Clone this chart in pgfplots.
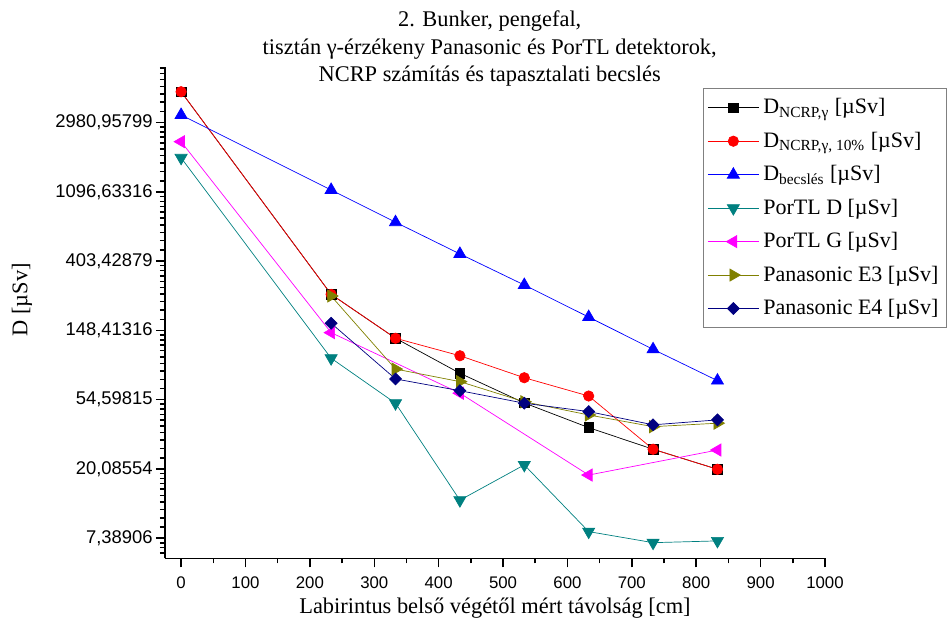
\documentclass[border=0pt]{standalone}
\usepackage{pgfplots}
\pgfplotsset{compat=1.18}
\usepackage{fontspec}
\setmainfont{Liberation Serif}
\newfontfamily\arial{Liberation Sans}
\definecolor{tealc}{RGB}{0,128,128}
\definecolor{olivec}{RGB}{128,128,0}
\definecolor{navyc}{RGB}{0,0,128}
\definecolor{magc}{RGB}{255,0,255}

\begin{document}
\begin{tikzpicture}
\useasboundingbox (0,0) rectangle (475pt,314pt);
\begin{axis}[
  at={(82.5pt,34.85pt)}, anchor=south west,
  scale only axis, width=330pt, height=245.65pt,
  xmin=-25, xmax=1000,
  ymode=log, ymin=5.53, ymax=6660,
  axis x line*=bottom, axis y line*=left,
  axis line style={line width=0.75pt, -},
  xtick={0,100,200,300,400,500,600,700,800,900,1000},
  xticklabels={0,100,200,300,400,500,600,700,800,900,1000},
  minor xtick={50,150,250,350,450,550,650,750,850,950},
  ytick={7.38906,20.08554,54.59815,148.41316,403.42879,1096.63316,2980.95799},
  yticklabels={{7,38906},{20,08554},{54,59815},{148,41316},{403,42879},{1096,63316},{2980,95799}},
  % nine linearly spaced minor ticks between consecutive powers of e
  minor ytick={5.9878,6.4549,6.9220,
    8.6587,9.9284,11.1980,12.4677,13.7373,15.0069,16.2766,17.5462,18.8159,
    23.5368,26.9880,30.4393,33.8906,37.3419,40.7931,44.2444,47.6957,51.1469,
    63.9797,73.3612,82.7427,92.1241,101.5056,110.8871,120.2686,129.6501,139.0315,
    173.915,199.416,224.918,250.420,275.921,301.423,326.924,352.426,377.928,
    472.749,542.070,611.390,680.711,750.031,819.352,888.672,957.992,1027.313,
    1285.066,1473.499,1661.932,1850.365,2038.798,2227.230,2415.663,2604.096,2792.529,
    3493.17,4005.38,4517.59,5029.81,5542.02,6054.23,6566.44},
  tick align=outside,
  major tick length=4.5pt, minor tick length=2.5pt,
  every tick/.style={black, line width=0.75pt},
  xticklabel style={font=\arial\fontsize{8.4}{10}\selectfont, yshift=-1pt},
  yticklabel style={font=\arial\fontsize{9.2}{10}\selectfont, inner xsep=1.5pt},
  xlabel={Labirintus belső végétől mért távolság [cm]},
  xlabel style={font=\fontsize{11.2}{13}\selectfont, at={(axis description cs:0.5,-0.101)}, anchor=center},
  ylabel={D [µSv]},
  ylabel style={font=\fontsize{11.2}{13}\selectfont, at={(axis description cs:-0.2167,0.526)}, anchor=center},
  title={2. Bunker, pengefal,\\tisztán γ-érzékeny Panasonic és PorTL detektorok,\\NCRP számítás és tapasztalati becslés},
  title style={align=center, font=\fontsize{11.2}{13.8}\selectfont, at={(axis description cs:0.492,1.013)}, anchor=center},
  legend style={at={(axis description cs:0.815,0.957)}, anchor=north west,
    draw=gray, line width=0.5pt, font=\fontsize{11}{12}\selectfont,
    row sep=3.6pt, inner xsep=2pt, inner ysep=3pt, cells={anchor=west}},
  legend image code/.code={\draw[#1, mark repeat=2, mark phase=2] plot coordinates {(0cm,0cm) (0.45cm,0cm) (0.9cm,0cm)};},
  legend cell align=left,
]
% NCRP calculation
\addplot[black, line width=0.35pt, mark=square*, mark size=2.4pt, mark options={solid, fill=black}]
  coordinates {(0,4660)(233,250)(333,132.6)(433,80)(533,52.1)(633,36.5)(733,26.7)(833,20.0)};
\addlegendentry{D\textsubscript{NCRP,γ} [µSv]}
% NCRP calculation, 10% variant
\addplot[red, line width=0.35pt, mark=*, mark size=2.6pt, mark options={solid, fill=red}]
  coordinates {(0,4660)(233,250)(333,132.6)(433,103)(533,75)(633,57.6)(733,26.7)(833,20.0)};
\addlegendentry{D\textsubscript{NCRP,γ, 10\%} [µSv]}
% empirical estimate
\addplot[blue, line width=0.35pt, mark=triangle*, mark size=3.5pt, mark options={solid, fill=blue}]
  coordinates {(0,3330)(233,1128)(333,708)(433,448)(533,286)(633,180)(733,113)(833,71.9)};
\addlegendentry{D\textsubscript{becslés} [µSv]}
% PorTL D
\addplot[tealc, line width=0.35pt, mark=triangle*, mark size=3.5pt, mark options={solid, fill=tealc, rotate=180}]
  coordinates {(0,1795)(233,99.4)(333,51.9)(433,12.8)(533,21.3)(633,8.13)(733,6.93)(833,7.11)};
\addlegendentry{PorTL D [µSv]}
% PorTL G
\addplot[magc, line width=0.35pt, mark=triangle*, mark size=3.5pt, mark options={solid, fill=magc, rotate=90}]
  coordinates {(0,2265)(233,143.8)(433,60)(633,18.4)(833,26.4)};
\addlegendentry{PorTL G [µSv]}
% Panasonic E3
\addplot[olivec, line width=0.35pt, mark=triangle*, mark size=3.5pt, mark options={solid, fill=olivec, rotate=-90}]
  coordinates {(233,244)(333,85)(433,70.9)(533,53)(633,43.8)(733,37)(833,38.9)};
\addlegendentry{Panasonic E3 [µSv]}
% Panasonic E4
\addplot[navyc, line width=0.35pt, mark=square*, mark size=2.1pt, mark options={solid, fill=navyc, rotate=45}]
  coordinates {(233,164.7)(333,73.7)(433,62.2)(533,51.9)(633,46)(733,38)(833,40.8)};
\addlegendentry{Panasonic E4 [µSv]}
\end{axis}
\end{tikzpicture}
\end{document}
